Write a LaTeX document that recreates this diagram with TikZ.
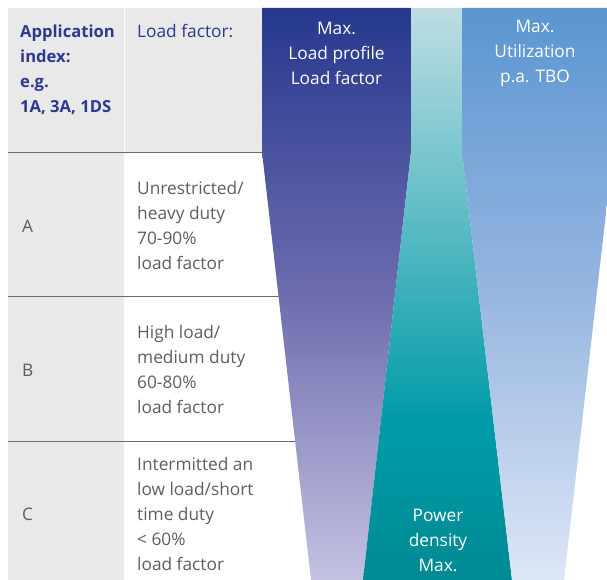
\documentclass[tikz,border=0pt]{standalone}
\usepackage{fontspec}
\setmainfont{Open Sans}
\definecolor{mnavy}{HTML}{2B3990}
\definecolor{mgreytext}{HTML}{5E5E5E}
\definecolor{mgreyfill}{HTML}{E9E9E9}
\definecolor{mline}{HTML}{6B6B6B}
\definecolor{bluetop}{HTML}{26388E}
\definecolor{bluemid}{HTML}{6D6CAE}
\definecolor{bluebot}{HTML}{C4C2E1}
\definecolor{tealtop}{HTML}{BEDDE3}
\definecolor{tealmid}{HTML}{009CA8}
\definecolor{tealbot}{HTML}{008A93}
\definecolor{skytop}{HTML}{5A96D1}
\definecolor{skymid}{HTML}{97B6E0}
\definecolor{skybot}{HTML}{DDE7F6}
\pgfdeclareverticalshading{bluefade}{100bp}{color(0bp)=(bluebot); color(25bp)=(bluebot); color(50bp)=(bluemid); color(75bp)=(bluetop); color(100bp)=(bluetop)}
\pgfdeclareverticalshading{tealfade}{100bp}{color(0bp)=(tealbot); color(25bp)=(tealbot); color(39bp)=(tealmid); color(75bp)=(tealtop); color(100bp)=(tealtop)}
\pgfdeclareverticalshading{skyfade}{100bp}{color(0bp)=(skybot); color(25bp)=(skybot); color(50bp)=(skymid); color(75bp)=(skytop); color(100bp)=(skytop)}
\tikzset{txt/.style = {inner sep = 0, align = left, anchor = west, font = \fontsize{17.3}{25}\selectfont},
  headtxt/.style = {txt, text = mnavy},
  rowtxt/.style = {txt, text = mgreytext},
  funtxt/.style = {inner sep = 0, align = center, text = white, font = \fontsize{17.3}{25}\selectfont},
  tabline/.style = {draw = mline, line width = 0.9pt}}

\begin{document}
\begin{tikzpicture}[x = 1pt, y = -1pt]
  \useasboundingbox (0, 0) rectangle (607, 580);
  % table background
  \fill [mgreyfill] (8, 8) rectangle (123.5, 580);
  \fill [mgreyfill] (124.5, 8) rectangle (262, 152);
  \foreach \y in {152, 296, 441} {
    \draw [tabline] (8, \y) -- (300, \y);
  }

  % funnels
  \shade [shading = bluefade] (262, 8) -- (411, 8) -- (411, 152) -- (363, 580) -- (311, 580) -- (262, 152) -- cycle;
  \shade [shading = tealfade] (411, 8) -- (462, 8) -- (462, 152) -- (512, 580) -- (363, 580) -- (411, 152) -- cycle;
  \shade [shading = skyfade] (462, 8) -- (607, 8) -- (607, 204) -- (564, 580) -- (512, 580) -- (462, 152) -- cycle;

  % headers
  \node [headtxt, font = \fontsize{16.6}{25}\selectfont\bfseries] (appidx) at (20, 69.5) {Application\\index:\\e.g.\\1A, 3A, 1DS};
  \node [headtxt] (lfhead) at (137, 31) {Load factor:};
  \node [funtxt] (loadmax) at (336.5, 53) {Max.\\Load profile\\Load factor};
  \node [funtxt] (utilmax) at (535, 53) {Max.\\Utilization\\p.a. TBO};
  \node [funtxt] (powmax) at (438, 540) {Power\\density\\Max.};

  % rows
  \foreach \y/\lab in {226/A, 370/B, 514/C} {
    \node [rowtxt] (lab\lab) at (22, \y) {\lab};
  }
  \node [rowtxt] (rowA) at (137, 226) {Unrestricted/\\heavy duty\\70-90\%\\load factor};
  \node [rowtxt] (rowB) at (137, 370) {High load/\\medium duty\\60-80\%\\load factor};
  \node [rowtxt] (rowC) at (137, 514.5) {Intermitted an\\low load/short\\time duty\\< 60\%\\load factor};
\end{tikzpicture}
\end{document}
